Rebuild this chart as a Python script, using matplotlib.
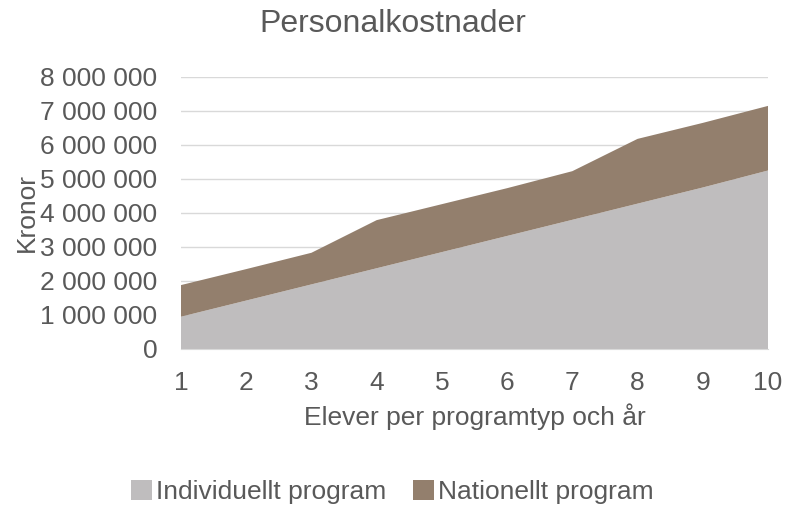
import matplotlib.pyplot as plt
from matplotlib.ticker import FuncFormatter

plt.rcParams['font.family'] = ['Liberation Sans', 'DejaVu Sans']

# Elever per programtyp och år
elever = [1, 2, 3, 4, 5, 6, 7, 8, 9, 10]
individuellt = [950000, 1425000, 1900000, 2375000, 2850000, 3325000, 3800000, 4275000, 4750000, 5250000]
totalt = [1880000, 2350000, 2830000, 3790000, 4260000, 4730000, 5230000, 6180000, 6650000, 7150000]
nationellt = [t - i for t, i in zip(totalt, individuellt)]

text_color = "#595959"

fig = plt.figure(figsize=(7.85, 5.05), dpi=100)
ax = fig.add_axes([181 / 785, 1 - 349 / 505, (768 - 181) / 785, (349 - 77) / 505])

ax.stackplot(elever, individuellt, nationellt,
             colors=["#BFBDBE", "#937F6D"],
             labels=["Individuellt program", "Nationellt program"], zorder=2)

ax.set_xlim(1, 10)
ax.set_ylim(0, 8000000)
ax.set_xticks(elever)
ax.set_yticks(range(0, 8000001, 1000000))
ax.yaxis.set_major_formatter(FuncFormatter(lambda v, p: f"{int(v):,}".replace(",", " ")))
ax.grid(axis="y", color="#D9D9D9", linewidth=1, zorder=0)
ax.set_axisbelow(True)
for s in ["top", "right", "left"]:
    ax.spines[s].set_visible(False)
ax.spines["bottom"].set_color("#D9D9D9")
ax.tick_params(length=0, labelsize=19, labelcolor=text_color)
ax.tick_params(axis="x", pad=16)
ax.tick_params(axis="y", pad=17)

ax.set_xlabel("Elever per programtyp och år", fontsize=19, color=text_color, labelpad=6)
ax.set_ylabel("Kronor", fontsize=19, color=text_color)
ax.yaxis.set_label_coords(-0.242, 0.5)

fig.text(0.5, 1 - 24 / 505, "Personalkostnader", ha="center", va="center",
         fontsize=23, color=text_color)

fig.legend(loc="center", bbox_to_anchor=(0.5, 1 - 492 / 505), ncol=2, frameon=False,
           fontsize=19, labelcolor=text_color, handlelength=0.8, handleheight=0.8,
           handletextpad=0.15, columnspacing=1.0)

fig.savefig("out.png", dpi=100)
